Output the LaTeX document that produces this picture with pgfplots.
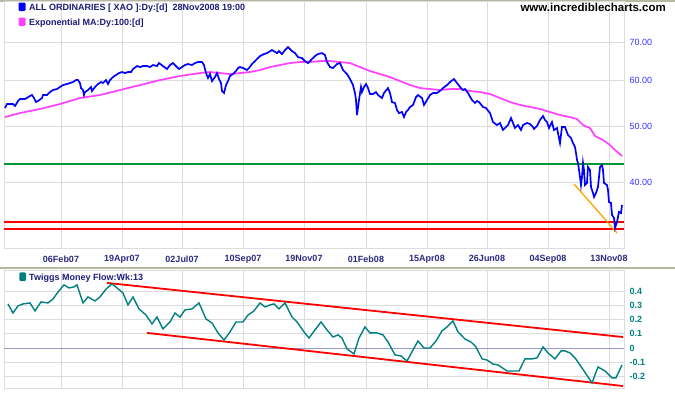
\documentclass[border=0pt]{standalone}
\usepackage{fontspec}
\setmainfont{Liberation Sans}
\usepackage{pgfplots}
\pgfplotsset{compat=1.18}
\definecolor{navytext}{HTML}{1C1C78}
\definecolor{datecol}{HTML}{2A2A80}
\definecolor{pricecol}{HTML}{3333FF}
\definecolor{tealc}{HTML}{008080}
\definecolor{gridgray}{HTML}{DCDCDC}
\definecolor{sepcol}{HTML}{B8B8A0}
\definecolor{pricebl}{HTML}{0000FF}
\definecolor{emapink}{HTML}{FF40FF}
\definecolor{greenl}{HTML}{009933}
\definecolor{redl}{HTML}{FF0000}
\definecolor{orangel}{HTML}{FFA500}
\definecolor{zeroline}{HTML}{9999CC}

\pgfplotstableread{
x y
5 53.78
7 54.64
13 54.64
15 54.21
18 55.30
20 55.75
25 55.75
30 56.42
32 56.64
34 55.97
36 55.08
38 55.30
42 55.97
43 56.64
47 56.64
50 57.33
53 57.79
57 58.02
60 58.49
63 58.95
67 59.19
70 59.43
73 59.66
76 60.14
78 60.14
80 59.43
81 58.25
83 57.79
84 56.64
85 57.33
88 57.79
91 58.49
92 57.56
95 58.49
98 59.19
101 59.66
103 59.43
106 60.14
108 59.19
110 60.14
113 60.87
116 61.36
119 61.85
122 62.10
125 61.85
128 62.10
131 62.10
133 62.85
137 63.61
140 63.35
143 63.61
147 63.61
150 63.35
153 63.86
157 63.61
159 64.37
163 63.61
167 62.85
170 63.86
173 64.37
177 63.35
179 62.85
182 63.35
185 63.86
188 64.12
192 63.86
195 64.37
198 64.63
202 64.63
204 63.86
206 61.85
208 60.63
210 61.60
212 59.90
215 60.87
217 61.85
219 60.39
221 59.43
222 57.56
224 57.10
226 58.95
228 59.90
230 61.12
233 61.60
236 62.35
238 63.10
240 63.35
243 63.10
247 62.60
249 63.10
252 64.12
254 64.63
257 65.41
260 66.20
264 66.73
267 66.99
272 67.80
277 66.99
279 67.53
282 66.73
285 67.80
288 68.62
292 67.53
295 66.99
298 65.93
302 65.67
305 64.89
308 64.37
312 65.41
315 66.20
318 66.73
322 66.99
325 66.46
327 64.63
330 63.35
333 63.10
337 64.12
340 64.37
343 62.60
347 61.60
350 60.39
353 58.95
355 57.10
356 55.52
357 52.29
359 55.52
361 58.49
362 57.33
364 58.49
366 59.19
368 58.25
370 56.87
373 56.87
376 57.33
378 56.64
382 55.97
384 57.10
388 58.25
390 57.10
392 55.08
395 54.86
397 53.35
399 52.71
402 52.92
404 51.87
406 52.92
408 53.35
410 54.00
413 54.43
416 56.19
418 56.64
422 55.97
424 54.43
427 55.52
430 56.64
433 57.10
437 57.10
441 57.79
443 58.25
447 58.95
450 59.66
454 60.39
457 59.43
461 58.25
463 57.79
465 58.02
468 57.10
472 55.52
475 54.86
477 55.30
479 55.08
483 54.00
486 53.78
490 52.71
493 50.85
497 50.24
500 50.65
503 49.25
505 49.64
508 50.24
511 51.67
513 50.65
515 49.64
518 50.24
521 49.25
523 50.24
527 50.65
530 50.45
533 49.84
534 49.45
537 50.04
540 51.26
543 52.08
545 51.26
547 50.85
549 49.64
552 50.85
554 49.25
557 49.64
560 46.76
562 49.84
565 49.84
568 48.28
571 47.71
573 46.76
575 46.01
576 44.93
577 43.69
578 43.17
579 41.98
580 40.82
581 39.53
582 40.82
583 43.17
584 41.98
585 39.53
587 39.85
588 42.48
590 41.98
591 39.22
593 38.29
594 37.69
596 38.29
598 39.22
599 40.82
600 42.48
602 42.82
603 41.98
604 39.85
607 39.53
608 38.75
609 36.93
611 36.78
612 35.07
614 34.65
615 33.29
617 34.10
618 34.79
619 35.49
621 35.35
622 36.49
}\pricetable

\pgfplotstableread{
x y
5 51.87
20 52.71
40 53.57
60 54.64
80 55.97
100 56.64
120 57.79
140 58.95
160 60.14
180 61.12
200 61.85
210 62.10
220 61.85
230 61.60
240 61.85
250 62.10
260 62.60
270 63.35
280 63.86
290 64.37
300 64.63
310 64.63
320 64.89
330 64.89
340 64.63
350 64.37
360 63.35
370 62.35
380 61.60
390 60.87
400 59.90
410 58.95
420 58.25
430 58.02
440 57.79
450 58.02
460 58.02
470 57.56
480 57.33
490 56.87
500 55.97
510 55.08
520 54.43
530 54.00
540 53.57
550 52.92
560 52.29
570 51.87
577 51.46
583 50.24
590 49.64
595 48.09
603 47.32
610 46.38
615 45.47
622 44.40
}\ematable

\pgfplotstableread{
x y
8 0.310
13 0.246
18 0.296
23 0.310
30 0.317
35 0.261
41 0.324
48 0.317
53 0.345
58 0.394
64 0.444
69 0.423
74 0.430
77 0.444
83 0.317
88 0.359
95 0.331
100 0.359
106 0.415
112 0.451
117 0.423
123 0.387
128 0.303
133 0.359
139 0.275
146 0.232
152 0.169
157 0.218
163 0.134
170 0.183
175 0.246
180 0.218
185 0.268
192 0.275
199 0.317
206 0.204
212 0.176
218 0.106
224 0.056
230 0.113
236 0.183
243 0.183
248 0.232
254 0.261
260 0.317
265 0.289
270 0.303
274 0.310
279 0.275
285 0.317
292 0.218
297 0.183
304 0.113
309 0.070
315 0.127
321 0.183
327 0.127
333 0.077
338 0.092
342 0.070
347 -0.007
354 -0.042
359 0.070
365 0.148
370 0.106
377 0.106
383 0.092
388 0.042
395 -0.049
401 -0.056
407 -0.092
413 -0.014
418 0.049
424 0.000
430 0.000
436 0.049
442 0.120
447 0.148
453 0.190
458 0.113
465 0.063
471 0.042
476 0.007
482 -0.077
487 -0.085
493 -0.113
498 -0.120
507 -0.162
513 -0.162
519 -0.162
525 -0.077
532 -0.077
537 -0.070
543 0.007
548 -0.035
555 -0.077
561 -0.021
565 -0.021
570 -0.035
575 -0.070
582 -0.141
592 -0.246
598 -0.134
605 -0.162
612 -0.211
616 -0.211
622 -0.120
}\tmftable

\begin{document}
\begin{tikzpicture}
\useasboundingbox (0,0) rectangle (675bp,-395bp);
\fill[white] (0,0) rectangle (675bp,-395bp);
\draw[sepcol, line width=1.5bp] (0,-0.75bp) -- (675bp,-0.75bp);
\draw[sepcol, line width=2bp] (0,-268bp) -- (675bp,-268bp);

\begin{axis}[
  at={(4bp,-1bp)}, anchor=north west, scale only axis,
  width=620bp, height=247bp,
  xmin=4, xmax=624, ymode=log, ymin=30.73, ymax=82.5,
  xtick={61,122,182,243,304,366,427,487,548,609},
  xticklabels={06Feb07,19Apr07,02Jul07,10Sep07,19Nov07,01Feb08,15Apr08,26Jun08,04Sep08,13Nov08},
  ytick={40,50,60,70}, yticklabels={40.00,50.00,60.00,70.00},
  yminorticks=false, xminorticks=false,
  yticklabel pos=right,
  major tick length=0pt,
  grid=major, grid style={draw=gridgray, line width=0.8bp},
  axis line style={draw=gridgray, line width=0.8bp},
  tick label style={font=\fontsize{9bp}{10bp}\selectfont\bfseries},
  xticklabel style={text=datecol, yshift=-4bp},
  yticklabel style={text=pricecol, anchor=west, xshift=2bp, font=\fontsize{9bp}{10bp}\selectfont},
]
\addplot[greenl, line width=1.8bp, no markers] coordinates {(2,43.0) (624,43.0)};
\addplot[redl, line width=1.8bp, no markers] coordinates {(2,34.1) (624,34.1)};
\addplot[redl, line width=1.8bp, no markers] coordinates {(2,33.15) (624,33.15)};
\addplot[emapink, line width=1.7bp, no markers] table {\ematable};
\addplot[orangel, line width=1.3bp, no markers] coordinates {(574,39.69) (617,32.64)};
\addplot[pricebl, line width=1.7bp, no markers] table {\pricetable};
\end{axis}

\begin{axis}[
  at={(4bp,-270bp)}, anchor=north west, scale only axis,
  width=620bp, height=118bp,
  xmin=4, xmax=624, ymin=-0.282, ymax=0.549,
  xtick={61,122,182,243,304,366,427,487,548,609},
  xticklabels={},
  ytick={-0.2,-0.1,0,0.1,0.2,0.3,0.4},
  yticklabels={-0.2,-0.1,0,0.1,0.2,0.3,0.4},
  yticklabel pos=right,
  major tick length=0pt,
  grid=major, grid style={draw=gridgray, line width=0.8bp},
  axis line style={draw=gridgray, line width=0.8bp},
  yticklabel style={text=tealc, anchor=west, xshift=2bp, font=\fontsize{9bp}{10bp}\selectfont\bfseries},
]
\addplot[zeroline, line width=0.8bp, no markers] coordinates {(4,0) (624,0)};
\addplot[redl, line width=1.8bp, no markers] coordinates {(107,0.458) (623,0.077)};
\addplot[redl, line width=1.8bp, no markers] coordinates {(147,0.106) (623,-0.268)};
\addplot[tealc, line width=1.4bp, no markers] table {\tmftable};
\end{axis}

% legends
\fill[pricebl, rounded corners=1.2bp] (18.5bp,-2.5bp) rectangle (25.5bp,-11bp);
\node[anchor=base west, inner sep=0, text=navytext, font=\fontsize{9bp}{10bp}\selectfont\bfseries] at (29bp,-10.5bp) {ALL ORDINARIES [ XAO ]:Dy:[d]\ \ 28Nov2008 19:00};
\fill[emapink, rounded corners=1.2bp] (18.5bp,-17.5bp) rectangle (25.5bp,-26bp);
\node[anchor=base west, inner sep=0, text=navytext, font=\fontsize{9bp}{10bp}\selectfont\bfseries] at (29bp,-25.3bp) {Exponential MA:Dy:100:[d]};
\fill[tealc, rounded corners=1.2bp] (19.3bp,-272.3bp) rectangle (26bp,-281bp);
\node[anchor=base west, inner sep=0, text=navytext, font=\fontsize{9bp}{10bp}\selectfont\bfseries] at (29bp,-280.5bp) {Twiggs Money Flow:Wk:13};
\node[anchor=base east, inner sep=0, text=black, font=\fontsize{11.5bp}{12bp}\selectfont\bfseries] at (666bp,-11.5bp) {www.incrediblecharts.com};
\end{tikzpicture}
\end{document}
